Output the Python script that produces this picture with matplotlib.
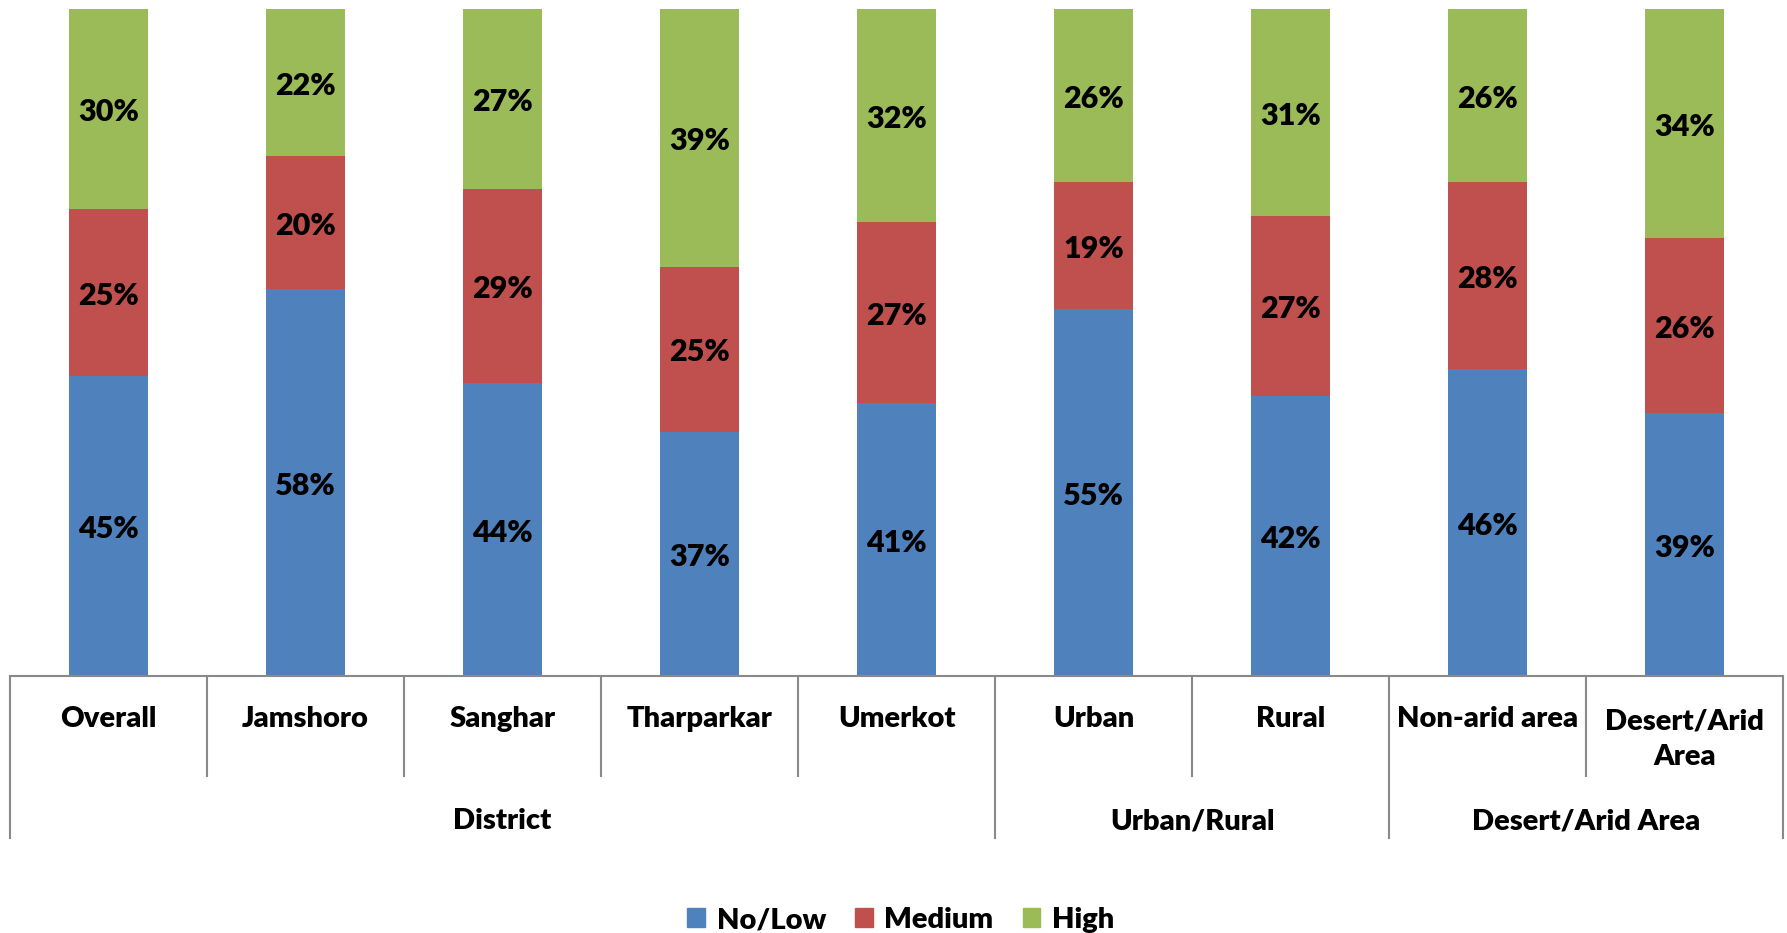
import matplotlib.pyplot as plt
import matplotlib.transforms as mtransforms
from matplotlib.patches import Patch
import numpy as np

plt.rcParams['font.family'] = ['Lato', 'DejaVu Sans']
plt.rcParams['font.weight'] = 'heavy'

# data (percent labels)
categories = ['Overall', 'Jamshoro', 'Sanghar', 'Tharparkar', 'Umerkot',
              'Urban', 'Rural', 'Non-arid area', 'Desert/Arid\nArea']
groups = ['District', 'Urban/Rural', 'Desert/Arid Area']
group_spans = [(0, 5), (5, 7), (7, 9)]
series = ['No/Low', 'Medium', 'High']
no_low = [45, 58, 44, 37, 41, 55, 42, 46, 39]
medium = [25, 20, 29, 25, 27, 19, 27, 28, 26]
high = [30, 22, 27, 39, 32, 26, 31, 26, 34]
colors = ['#4F81BD', '#C0504D', '#9BBB59']

vals = np.array([no_low, medium, high], dtype=float)
shares = vals / vals.sum(axis=0)  # 100% stacked

W, H = 1787, 933
fig = plt.figure(figsize=(W / 100, H / 100), dpi=100)
ax = fig.add_axes((10 / W, (H - 676) / H, 1773 / W, 667 / H))

x = np.arange(len(categories)) + 0.5
bottom = np.zeros(len(categories))
for k in range(3):
    ax.bar(x, shares[k], 0.4, bottom=bottom, color=colors[k], zorder=2)
    for i in range(len(categories)):
        ax.text(x[i], bottom[i] + shares[k][i] / 2 - 0.005, '%d%%' % vals[k][i],
                ha='center', va='center', fontsize=22, fontweight='heavy')
    bottom += shares[k]

ax.set_xlim(0, len(categories))
ax.set_ylim(0, 1)
ax.axis('off')

# category axis with grouped labels
trans = mtransforms.blended_transform_factory(ax.transData, ax.transAxes)
line_kw = dict(color='#898989', lw=1.5, transform=trans, clip_on=False)
ax.plot([0, len(categories)], [0, 0], **line_kw)
outer = [0, 5, 7, 9]
for b in range(len(categories) + 1):
    ax.plot([b, b], [0, -0.243 if b in outer else -0.15], **line_kw)
for i, c in enumerate(categories):
    ax.text(x[i], -0.064 if '\n' not in c else -0.095, c, transform=trans,
            ha='center', va='center', fontsize=21, fontweight='heavy',
            linespacing=1.45)
for g, (a, b) in zip(groups, group_spans):
    ax.text((a + b) / 2, -0.218, g, transform=trans, ha='center',
            va='center', fontsize=21, fontweight='heavy')

handles = [Patch(color=c, label=s) for c, s in zip(colors, series)]
fig.legend(handles=handles, loc='center', bbox_to_anchor=(0.504, 13 / H),
           ncol=3, frameon=False, handlelength=0.6,
           handleheight=0.6, handletextpad=0.4, columnspacing=1.0,
           prop={'weight': 'heavy', 'size': 21})

fig.savefig('out.png', dpi=100)
